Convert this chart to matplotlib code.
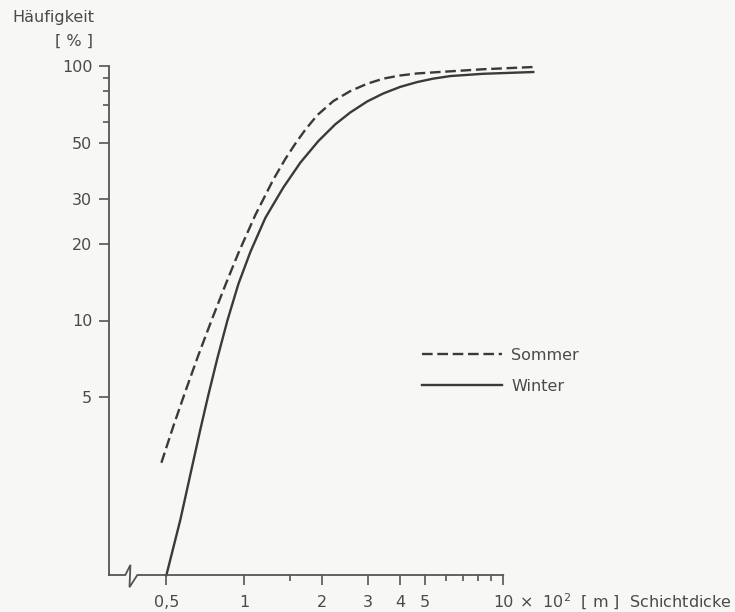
import matplotlib
matplotlib.use("Agg")
import matplotlib.pyplot as plt
from matplotlib.ticker import FixedLocator, FixedFormatter, NullFormatter
from matplotlib.transforms import blended_transform_factory

# Schichtdicke in 10^2 m, Häufigkeit in %
sommer_x = [0.478, 0.532, 0.592, 0.664, 0.752, 0.845, 0.948, 1.103, 1.294,
            1.439, 1.573, 1.720, 1.913, 2.206, 2.566, 2.985, 3.441, 4.003,
            4.656, 6.243, 8.372, 13.06]
sommer_y = [2.76, 3.85, 5.27, 7.30, 10.2, 13.8, 18.4, 26.0, 35.8,
            43.1, 49.5, 56.2, 64.1, 72.8, 79.7, 85.2, 89.2, 91.8,
            93.5, 95.3, 97.1, 99.1]

winter_x = [0.5, 0.566, 0.630, 0.676, 0.726, 0.787, 0.860, 0.948, 1.055,
            1.205, 1.414, 1.645, 1.931, 2.245, 2.566, 2.985, 3.441, 4.003,
            4.656, 5.367, 6.243, 8.372, 13.06]
winter_y = [1.0, 1.65, 2.70, 3.73, 5.10, 7.12, 10.0, 13.9, 18.6,
            25.3, 33.3, 41.7, 50.7, 59.0, 65.7, 72.6, 78.0, 82.8,
            86.5, 89.2, 91.3, 93.2, 94.7]

series_labels = ["Sommer", "Winter"]

x_major = [0.5, 1, 2, 3, 4, 5, 10]
x_major_labels = ["0,5", "1", "2", "3", "4", "5", "10"]
x_minor = [1.5, 6, 7, 8, 9]
y_major = [5, 10, 20, 30, 50, 100]
y_major_labels = ["5", "10", "20", "30", "50", "100"]
y_minor = [60, 70, 80, 90]

INK = "#3a3a3a"
TEXT = "#4a4a4a"
AXIS = "#555555"
BG = "#f7f7f5"

plt.rcParams["font.family"] = ["DejaVu Sans"]
plt.rcParams["font.size"] = 11.5

fig = plt.figure(figsize=(7.35, 6.12), dpi=100, facecolor=BG)
ax = fig.add_axes([109 / 735, 1 - 575 / 612, 436 / 735, 509 / 612])
ax.set_facecolor(BG)

ax.set_xscale("log")
ax.set_yscale("log")
ax.set_xlim(0.30, 14.5)
ax.set_ylim(1, 100)

ax.plot(sommer_x, sommer_y, color=INK, lw=1.7, dashes=(4.5, 2.0),
        label=series_labels[0], clip_on=False, dash_capstyle="butt",
        dash_joinstyle="round")
ax.plot(winter_x, winter_y, color=INK, lw=1.7, label=series_labels[1],
        clip_on=False, solid_joinstyle="round")

# frame: left spine only; the bottom axis is drawn with a break mark
for side in ("top", "right", "bottom"):
    ax.spines[side].set_visible(False)
ax.spines["left"].set_color(AXIS)
ax.spines["left"].set_linewidth(1.3)

bt = blended_transform_factory(ax.transData, ax.transAxes)
ax.plot([0.30, 0.347, 0.363, 0.360, 0.386, 10],
        [0, 0, 0.020, -0.024, 0, 0],
        transform=bt, color=AXIS, lw=1.3, clip_on=False,
        solid_joinstyle="miter")

ax.xaxis.set_major_locator(FixedLocator(x_major))
ax.xaxis.set_major_formatter(FixedFormatter(x_major_labels))
ax.xaxis.set_minor_locator(FixedLocator(x_minor))
ax.xaxis.set_minor_formatter(NullFormatter())
ax.yaxis.set_major_locator(FixedLocator(y_major))
ax.yaxis.set_major_formatter(FixedFormatter(y_major_labels))
ax.yaxis.set_minor_locator(FixedLocator(y_minor))
ax.yaxis.set_minor_formatter(NullFormatter())

ax.tick_params(axis="both", which="major", direction="out", length=7,
               width=1.2, color=AXIS, labelcolor=TEXT, labelsize=11.5)
ax.tick_params(axis="x", which="major", pad=7.5)
ax.tick_params(axis="y", which="major", pad=5)
ax.tick_params(axis="both", which="minor", direction="out", length=4,
               width=1.2, color=AXIS)

# unit and quantity name after the last x tick label
ax.annotate("×  10$^2$  [ m ]  Schichtdicke", xy=(10, 0), xycoords=bt,
            xytext=(11, -23.6), textcoords="offset points",
            ha="left", va="baseline", color=TEXT, fontsize=11.5)

# y-axis title
fig.text(12 / 735, 1 - 10 / 612, "Häufigkeit", ha="left", va="top",
         color=TEXT, fontsize=11.5)
fig.text(93 / 735, 1 - 34 / 612, "[ % ]", ha="right", va="top",
         color=TEXT, fontsize=11.5)

ax.legend(loc="center left",
          bbox_to_anchor=((422 - 109) / 436, (575 - 371) / 509),
          frameon=False, handlelength=5.0, handletextpad=0.6,
          labelspacing=1.0, borderpad=0, borderaxespad=0,
          labelcolor=TEXT, fontsize=11.5)

fig.savefig("out.png", dpi=100, facecolor=BG)
